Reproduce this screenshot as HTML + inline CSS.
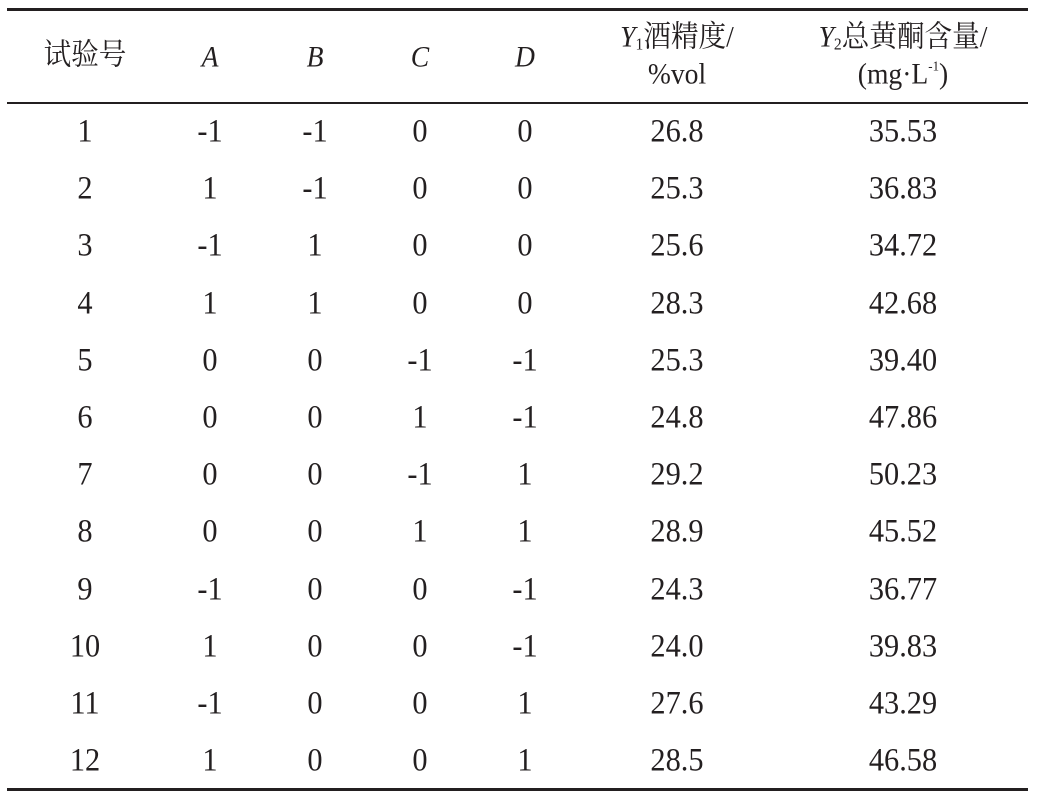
<!DOCTYPE html>
<html><head><meta charset="utf-8"><style>
body{margin:0;width:1050px;height:803px;background:#fff;position:relative;overflow:hidden;font-family:"Liberation Serif","Noto Serif CJK SC",serif;color:#231f20}
.r{position:absolute;left:7px;width:1021px;background:#231f20}
.c{position:absolute;transform:translate(-50%,-50%) scaleX(0.92);font-size:33px;white-space:nowrap;line-height:1;text-align:center}
.h{font-size:30px;line-height:1.22}
i{font-style:italic}
sub{font-size:17px;vertical-align:-3px}
sup{font-size:14px;vertical-align:13px}
</style></head><body>
<div class="r" style="top:8px;height:3px"></div>
<div class="r" style="top:102px;height:1.5px"></div>
<div class="r" style="top:788px;height:3px"></div>
<div class="c h" style="left:85px;top:56px">试验号</div>
<div class="c h" style="left:210px;top:58px"><i>A</i></div>
<div class="c h" style="left:315px;top:58px"><i>B</i></div>
<div class="c h" style="left:420px;top:58px"><i>C</i></div>
<div class="c h" style="left:525px;top:58px"><i>D</i></div>
<div class="c h" style="left:677px;top:56px"><i>Y</i><sub>1</sub>酒精度/<br>%vol</div>
<div class="c h" style="left:903px;top:56px"><i>Y</i><sub>2</sub>总黄酮含量/<br>(mg·L<sup>-1</sup>)</div>
<div id="rows"></div>
<script>
var d=[[1,-1,-1,0,0,"26.8","35.53"],[2,1,-1,0,0,"25.3","36.83"],[3,-1,1,0,0,"25.6","34.72"],[4,1,1,0,0,"28.3","42.68"],[5,0,0,-1,-1,"25.3","39.40"],[6,0,0,1,-1,"24.8","47.86"],[7,0,0,-1,1,"29.2","50.23"],[8,0,0,1,1,"28.9","45.52"],[9,-1,0,0,-1,"24.3","36.77"],[10,1,0,0,-1,"24.0","39.83"],[11,-1,0,0,1,"27.6","43.29"],[12,1,0,0,1,"28.5","46.58"]];
var xs=[85,210,315,420,525,677,903],h="";
d.forEach(function(r,i){var y=132+i*57.2;r.forEach(function(v,j){h+='<div class="c" style="left:'+xs[j]+'px;top:'+y+'px">'+v+'</div>';});});
document.getElementById("rows").innerHTML=h;
</script>
</body></html>
